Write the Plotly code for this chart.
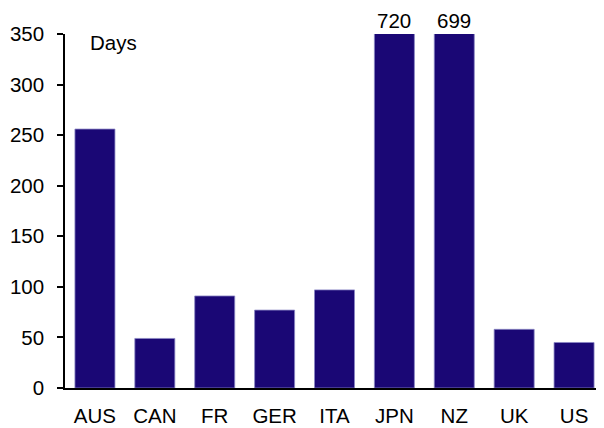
import plotly.graph_objects as go

countries = ["AUS", "CAN", "FR", "GER", "ITA", "JPN", "NZ", "UK", "US"]
days = [256, 49, 91, 77, 97, 720, 699, 58, 45]
y_max = 350
y_ticks = [0, 50, 100, 150, 200, 250, 300, 350]

bar_color = "#1a0775"
font_family = "Liberation Sans, Arial, sans-serif"
fs = 20.5

fig = go.Figure()
fig.add_trace(go.Bar(
    x=countries, y=days,
    marker=dict(color=bar_color, line=dict(color="#8a86c4", width=0.8)),
    cliponaxis=True,
))

annotations = []
for c, v in zip(countries, days):
    if v > y_max:
        annotations.append(dict(x=c, y=y_max, xref="x", yref="y", text=str(v),
                                showarrow=False, yanchor="bottom", yshift=0,
                                font=dict(size=fs, color="black", family=font_family)))
annotations.append(dict(x=0.043, y=0.977, xref="paper", yref="paper", text="Days",
                        showarrow=False, xanchor="left", yanchor="middle",
                        font=dict(size=fs, color="black", family=font_family)))

# page body has an 8px default margin; figure sized to fit the window
fig.update_layout(
    width=596, height=420,
    margin=dict(l=57, r=0, t=26, b=39.5),
    plot_bgcolor="white", paper_bgcolor="white",
    bargap=0.332,
    showlegend=False,
    font=dict(family=font_family, size=fs, color="black"),
    annotations=annotations,
    xaxis=dict(showline=True, linecolor="black", linewidth=1.5, ticks="",
               showgrid=False, tickfont=dict(size=fs), ticklabelstandoff=9,
               automargin=False),
    yaxis=dict(range=[0, y_max], tickvals=y_ticks, showline=True, linecolor="black",
               linewidth=1.5, ticks="outside", ticklen=6, tickwidth=1.5, tickcolor="black",
               showgrid=False, zeroline=False, tickfont=dict(size=fs),
               ticklabelstandoff=9, automargin=False),
)

fig.write_html("out.html")
